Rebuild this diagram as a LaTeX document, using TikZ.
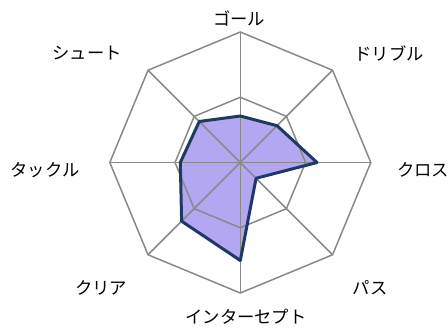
\documentclass[tikz,border=0pt]{standalone}
\usepackage{fontspec}
\setmainfont{Noto Sans CJK JP}
\definecolor{gridgray}{HTML}{898989}
\definecolor{datafill}{HTML}{B4A7F2}
\definecolor{dataline}{HTML}{1F3864}
\begin{document}
\begin{tikzpicture}[x=1bp,y=1bp,
  gridline/.style={draw=gridgray,line width=1.5bp},
  dataedge/.style={draw=dataline,line width=3bp,line join=round},
  axislabel/.style={inner sep=0pt,font=\fontsize{17.3bp}{20bp}\selectfont}]
\useasboundingbox (0,0) rectangle (448,332);
\coordinate (c) at (240.3,169.5);
\foreach \a [count=\i] in {90,45,0,-45,-90,-135,180,135} {
  \path (c) ++(\a:130.5) coordinate (o\i);
  \path (c) ++(\a:65.25) coordinate (i\i);
}
\foreach \a/\v [count=\i] in {90/46.5,45/52,0/76.7,-45/22.3,-90/98,-135/83,180/60,135/58} {
  \path (c) ++(\a:\v) coordinate (d\i);
}
\fill[datafill] (d1) -- (d2) -- (d3) -- (d4) -- (d5) -- (d6) -- (d7) -- (d8) -- cycle;
\draw[gridline,line join=miter] (o1) -- (o2) -- (o3) -- (o4) -- (o5) -- (o6) -- (o7) -- (o8) -- cycle;
\draw[gridline,line join=miter] (i1) -- (i2) -- (i3) -- (i4) -- (i5) -- (i6) -- (i7) -- (i8) -- cycle;
\foreach \i in {1,...,8} { \draw[gridline] (c) -- (o\i); }
\draw[dataedge] (d1) -- (d2) -- (d3) -- (d4) -- (d5) -- (d6) -- (d7) -- (d8) -- cycle;
\node[axislabel] (l1) at (239,314) {ゴール};
\node[axislabel] (l2) at (389,279) {ドリブル};
\node[axislabel] (l3) at (423,162) {クロス};
\node[axislabel] (l4) at (370,44) {パス};
\node[axislabel] (l5) at (246,15) {インターセプト};
\node[axislabel] (l6) at (101,44) {クリア};
\node[axislabel] (l7) at (45,162) {タックル};
\node[axislabel] (l8) at (87,279) {シュート};
\end{tikzpicture}
\end{document}
